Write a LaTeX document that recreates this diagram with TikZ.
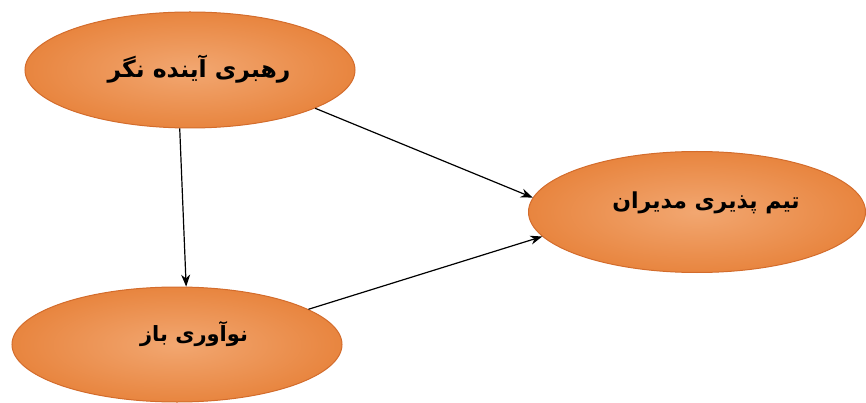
\documentclass[tikz,border=0pt]{standalone}
\usepackage{fontspec}
\newfontfamily\arabicfont[Script=Arabic]{DejaVu Sans}
\TeXXeTstate=1
\usetikzlibrary{shapes.geometric,arrows.meta}

\definecolor{Inner}{HTML}{F2A771}
\definecolor{Outer}{HTML}{E8853F}
\definecolor{Rim}{HTML}{D36C2C}

\begin{document}
\begin{tikzpicture}[x=1pt, y=-1pt,
  factor/.style={ellipse, draw=Rim, line width=1, inner color=Inner, outer color=Outer,
    minimum width=330pt, minimum height=116pt, inner sep=0pt,
    font=\arabicfont\bfseries\fontsize{22}{26}\selectfont},
  link/.style={-{Stealth[length=12pt, width=9pt]}, line width=1.2}]

  \useasboundingbox (0,0) rectangle (866,403);

  %%%%%%%%%%%%%%%% FACTORS %%%%%%%%%%%%%%%%%%%%%%
  \node[factor, font=\arabicfont\bfseries\fontsize{23.5}{26}\selectfont] (vision) at (190,70)
    {\hspace*{18pt}\raisebox{8pt}{\beginR رهبری آینده نگر\endR}};
  \node[factor, minimum width=337pt, minimum height=121pt] (team) at (697,212)
    {\hspace*{18pt}\raisebox{24pt}{\beginR تیم پذیری مدیران\endR}};
  \node[factor, minimum height=115pt, font=\arabicfont\bfseries\fontsize{21}{26}\selectfont] (open) at (177,344.5)
    {\hspace*{34pt}\raisebox{26pt}{\beginR نوآوری باز\endR}};

  %%%%%%%%%%%%%%%% LINKS %%%%%%%%%%%%%%%%%%%%%%
  \draw[link] (vision.260) -- (open.81);
  \draw[link] (vision.-17) -- (team.175);
  \draw[link] (open.15) -- (team.-171);

\end{tikzpicture}
\end{document}
